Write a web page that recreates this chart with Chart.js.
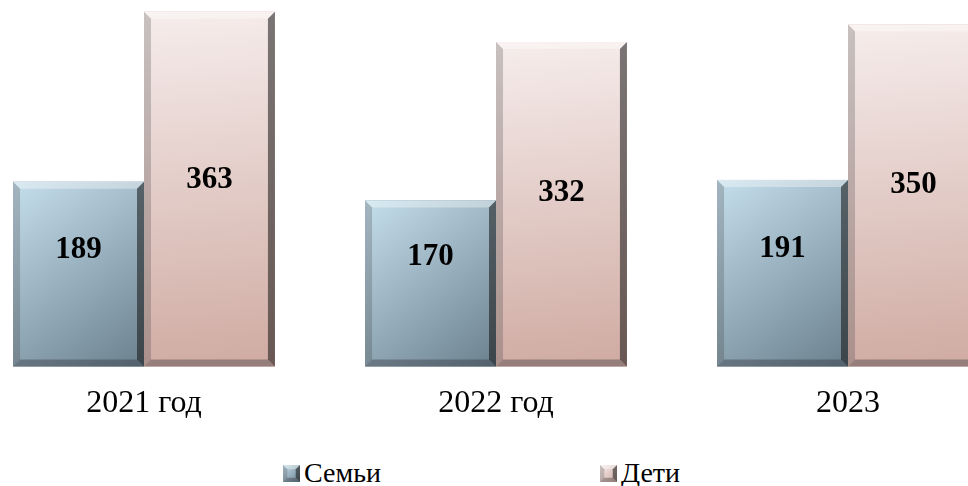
<!DOCTYPE html>
<html>
<head>
<meta charset="utf-8">
<script src="https://cdn.jsdelivr.net/npm/chart.js@4"></script>
<style>
  body { margin: 0; background: #fff; overflow: hidden; }
  #wrap { position: absolute; left: -59px; top: 0; width: 1083px; height: 453px; }
  #legend { position: absolute; top: 458px; left: 0; width: 968px; height: 30px;
            font-family: "Liberation Serif", serif; font-size: 28px; color: #000; }
  .item { position: absolute; top: 0; line-height: 30px; white-space: nowrap; }
  .item canvas { vertical-align: middle; margin-right: 4px; position: relative; top: -2px; }
</style>
</head>
<body>
<div id="wrap"><canvas id="myChart"></canvas></div>
<div id="legend"></div>
<script>
const labels = ['2021 год', '2022 год', '2023'];
const seriesNames = ['Семьи', 'Дети'];
const families = [189, 170, 191];
const children = [363, 332, 350];

// fill colours: [light corner, dark corner]
const fills = [
    ['rgb(198,223,237)', 'rgb(106,128,141)'],
    ['rgb(246,237,236)', 'rgb(208,172,164)']
];

function drawBevelRect(c, x0, y0, x1, y1, fill, diag) {
    const w = x1 - x0, h = y1 - y0;
    const g = diag ? c.createLinearGradient(x0, y0, x1, y1)
                   : c.createLinearGradient(x0, y0, x0 + w * 0.25, y1);
    g.addColorStop(0, fill[0]);
    g.addColorStop(1, fill[1]);
    c.fillStyle = g;
    c.fillRect(x0, y0, w, h);
    const b = Math.min(7, w / 4, h / 4);
    // top
    c.fillStyle = 'rgba(255,255,255,0.35)';
    c.beginPath(); c.moveTo(x0, y0); c.lineTo(x1, y0); c.lineTo(x1 - b, y0 + b); c.lineTo(x0 + b, y0 + b); c.fill();
    // left
    c.fillStyle = 'rgba(60,60,60,0.25)';
    c.beginPath(); c.moveTo(x0, y0); c.lineTo(x0 + b, y0 + b); c.lineTo(x0 + b, y1 - b); c.lineTo(x0, y1); c.fill();
    // right
    c.fillStyle = 'rgba(20,20,20,0.55)';
    c.beginPath(); c.moveTo(x1, y0); c.lineTo(x1, y1); c.lineTo(x1 - b, y1 - b); c.lineTo(x1 - b, y0 + b); c.fill();
    // bottom
    c.fillStyle = 'rgba(40,40,50,0.35)';
    c.beginPath(); c.moveTo(x0, y1); c.lineTo(x0 + b, y1 - b); c.lineTo(x1 - b, y1 - b); c.lineTo(x1, y1); c.fill();
}

const bevelBars = {
    id: 'bevelBars',
    afterDatasetsDraw(chart) {
        const c = chart.ctx;
        c.save();
        chart.data.datasets.forEach((ds, di) => {
            chart.getDatasetMeta(di).data.forEach((bar, i) => {
                const p = bar.getProps(['x', 'y', 'base', 'width'], true);
                const x0 = p.x - p.width / 2, x1 = p.x + p.width / 2;
                drawBevelRect(c, x0, p.y, x1, p.base, fills[di], di === 0);
                // value label
                const ly = p.y + 0.59 * (p.base - p.y) - 41;
                c.fillStyle = '#000';
                c.font = 'bold 31px "Liberation Serif"';
                c.textAlign = 'center';
                c.textBaseline = 'middle';
                c.fillText(ds.data[i], p.x, ly);
            });
        });
        c.restore();
    }
};

const data = {
    labels,
    datasets: [{
        label: seriesNames[0],
        data: families,
        backgroundColor: fills[0][1],
        barPercentage: 1,
        categoryPercentage: 0.744
    }, {
        label: seriesNames[1],
        data: children,
        backgroundColor: fills[1][1],
        barPercentage: 1,
        categoryPercentage: 0.744
    }]
};

const config = {
    type: 'bar',
    data: data,
    options: {
        responsive: true,
        maintainAspectRatio: false,
        animation: false,
        layout: { padding: { left: 27, right: 0, top: 0, bottom: 20 } },
        plugins: {
            legend: { display: false },
            tooltip: { enabled: false }
        },
        scales: {
            x: {
                grid: { display: false },
                border: { display: false },
                ticks: {
                    color: '#000',
                    padding: 10,
                    font: { family: '"Liberation Serif"', size: 32 }
                }
            },
            y: {
                display: false,
                min: 0,
                max: 375
            }
        }
    },
    plugins: [bevelBars]
};

const myChart = new Chart(document.getElementById('myChart'), config);

// legend
const legendPos = [283, 600];
const legend = document.getElementById('legend');
seriesNames.forEach((name, i) => {
    const item = document.createElement('span');
    item.className = 'item';
    item.style.left = legendPos[i] + 'px';
    const icon = document.createElement('canvas');
    icon.width = 17; icon.height = 17;
    drawBevelRect(icon.getContext('2d'), 0, 0, 17, 17, fills[i], true);
    item.appendChild(icon);
    item.appendChild(document.createTextNode(name));
    legend.appendChild(item);
});
</script>
</body>
</html>
